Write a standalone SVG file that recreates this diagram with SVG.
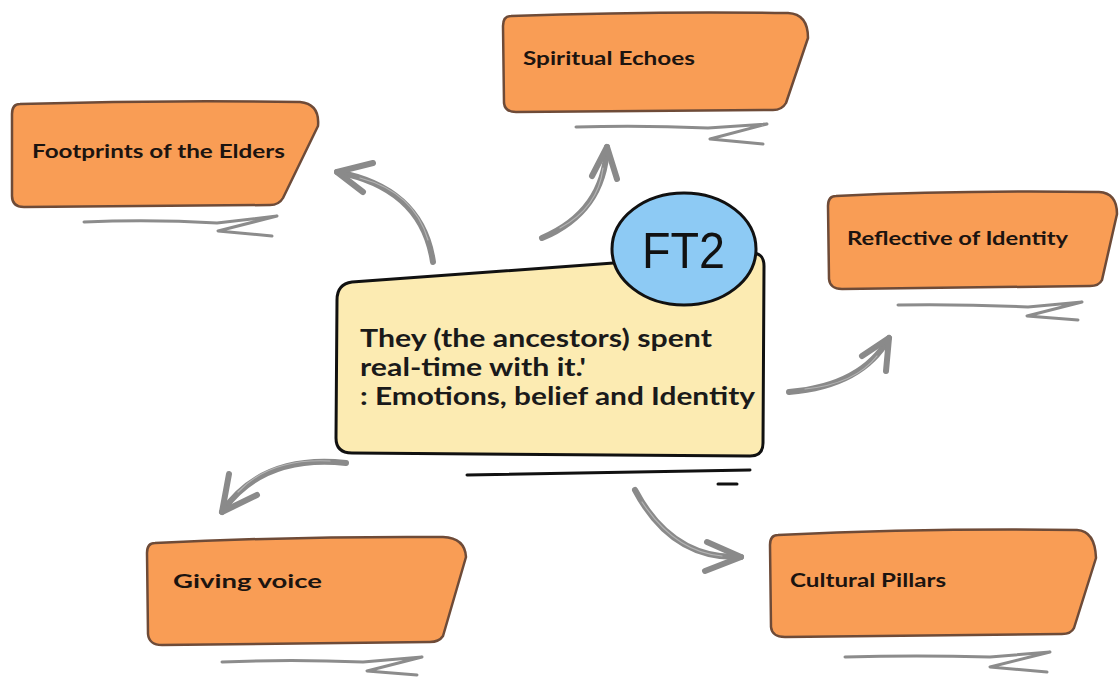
<svg xmlns="http://www.w3.org/2000/svg" width="1119" height="679" viewBox="0 0 1119 679">
  <style>
    .box { fill: #F99D55; stroke: #6E4B38; stroke-width: 2.5; stroke-linejoin: round; }
    .lbl { font-family: "Lato", "Liberation Sans", sans-serif; font-weight: 700; font-size: 19px; fill: #1c1410; }
    .squig { fill: none; stroke: #8c8c8c; stroke-width: 3; stroke-linecap: round; stroke-linejoin: round; }
    .arrow { fill: none; stroke: #8a8a8a; stroke-width: 6; stroke-linecap: round; stroke-linejoin: round; }
    .arrow-hl { fill: none; stroke: #b4b4b4; stroke-width: 1.2; stroke-linecap: round; }
    .main { font-family: "Lato", "Liberation Sans", sans-serif; font-weight: 700; font-size: 25px; fill: #1a1a1a; }
  </style>
  <rect width="1119" height="679" fill="#ffffff"/>

  <!-- connectors -->
  <g id="connectors">
    <!-- to Footprints of the Elders -->
    <path class="arrow" d="M433,262 Q422,188 337,172"/>
    <path class="arrow" d="M373,163 L337,172 L363,192"/>
    <path class="arrow-hl" d="M428,240 Q414,192 360,178"/>
    <!-- to Spiritual Echoes -->
    <path class="arrow" d="M542,238 Q604,212 607,147"/>
    <path class="arrow" d="M592,176 L607,147 L617,179"/>
    <path class="arrow-hl" d="M560,228 Q598,208 603,168"/>
    <!-- to Reflective of Identity -->
    <path class="arrow" d="M789,392 Q862,386 889,338"/>
    <path class="arrow" d="M862,356 L889,338 L886,371"/>
    <path class="arrow-hl" d="M805,389 Q855,384 877,356"/>
    <!-- to Giving voice -->
    <path class="arrow" d="M346,463 Q262,454 222,512"/>
    <path class="arrow" d="M229,474 L222,512 L257,495"/>
    <path class="arrow-hl" d="M330,461 Q270,458 238,492"/>
    <!-- to Cultural Pillars -->
    <path class="arrow" d="M635,490 Q672,560 741,557"/>
    <path class="arrow" d="M707,542 L741,557 L705,571"/>
    <path class="arrow-hl" d="M642,502 Q675,552 722,556"/>
  </g>

  <!-- central idea -->
  <g id="center">
    <path d="M352,282 Q337,284 337,300 L336,438 Q336,453 352,453 L750,456 Q763,456 763,443 L764,266 Q764,252 750,253 Z" fill="#FCEBB2" stroke="#111" stroke-width="3" stroke-linejoin="round"/>
    <text class="main" x="360" y="347" textLength="352" lengthAdjust="spacingAndGlyphs">They (the ancestors) spent</text>
    <text class="main" x="360" y="376" textLength="226" lengthAdjust="spacingAndGlyphs">real-time with it.'</text>
    <text class="main" x="360" y="405" textLength="395" lengthAdjust="spacingAndGlyphs">: Emotions, belief and Identity</text>
    <path d="M467,475 L750,470" fill="none" stroke="#111" stroke-width="3" stroke-linecap="round"/>
    <path d="M718,484 L737,484" fill="none" stroke="#111" stroke-width="3" stroke-linecap="round"/>
  </g>

  <g id="ft2">
    <ellipse cx="684" cy="249" rx="72" ry="56" fill="#8DCAF4" stroke="#111" stroke-width="3"/>
    <text x="642" y="268" font-family="'Liberation Sans', Arial, sans-serif" font-size="50" fill="#111" textLength="83" lengthAdjust="spacingAndGlyphs">FT2</text>
  </g>

  <!-- branch nodes -->
  <g id="footprints">
    <path class="box" d="M20,104 Q12,104 12,114 L12,196 Q12,207 24,207 L270,205 Q279,205 283,198 L318,126 Q320,104 300,102 Q160,100 20,104 Z"/>
    <text class="lbl" x="32" y="158" textLength="253" lengthAdjust="spacingAndGlyphs">Footprints of the Elders</text>
    <path class="squig" d="M84,222 Q150,219 217,223 L277,216 L218,231 L272,236"/>
  </g>

  <g id="spiritual">
    <path class="box" d="M511,16 Q503,16 503,26 L504,103 Q505,112 516,112 L773,110 Q782,110 786,103 L808,38 Q808,14 788,13 Q650,11 511,16 Z"/>
    <text class="lbl" x="523" y="65" textLength="172" lengthAdjust="spacingAndGlyphs">Spiritual Echoes</text>
    <path class="squig" d="M576,127 Q640,125 708,128 L767,124 L710,139 L763,144"/>
  </g>

  <g id="reflective">
    <path class="box" d="M836,196 Q828,196 828,206 L829,279 Q830,289 842,289 L1090,286 Q1099,286 1102,280 L1117,214 Q1117,193 1099,192 Q960,190 836,196 Z"/>
    <text class="lbl" x="847" y="245" textLength="221" lengthAdjust="spacingAndGlyphs">Reflective of Identity</text>
    <path class="squig" d="M898,305 Q960,304 1028,307 L1082,302 L1027,316 L1078,320"/>
  </g>

  <g id="giving">
    <path class="box" d="M155,543 Q147,543 147,553 L148,634 Q149,645 162,645 L430,642 Q439,642 443,636 L466,557 Q465,538 443,537 Q300,536 155,543 Z"/>
    <text class="lbl" x="173" y="588" textLength="149" lengthAdjust="spacingAndGlyphs">Giving voice</text>
    <path class="squig" d="M222,662 Q290,659 363,662 L422,657 L367,671 L417,675"/>
  </g>

  <g id="cultural">
    <path class="box" d="M778,535 Q770,535 770,545 L771,627 Q772,637 785,637 L1062,634 Q1071,634 1074,628 L1096,558 Q1095,531 1077,530 Q930,528 778,535 Z"/>
    <text class="lbl" x="790" y="587" textLength="156" lengthAdjust="spacingAndGlyphs">Cultural Pillars</text>
    <path class="squig" d="M845,657 Q915,655 990,657 L1050,652 L990,667 L1047,672"/>
  </g>
</svg>
